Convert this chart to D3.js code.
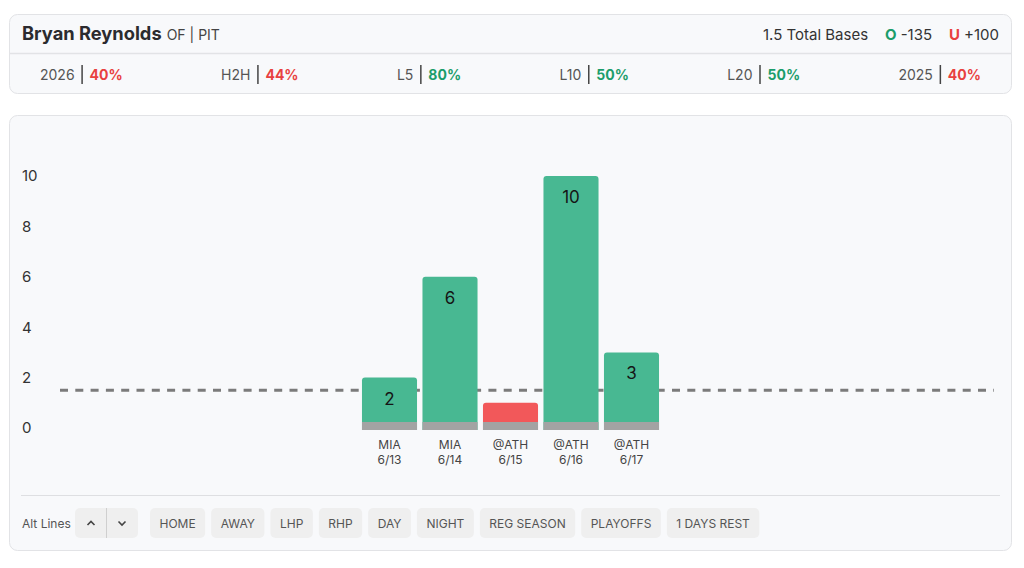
<!DOCTYPE html>
<html>
<head>
<meta charset="utf-8">
<script src="https://cdn.jsdelivr.net/npm/d3@7"></script>
<style>
  body { margin: 0; background: #fff; font-family: "Inter", "Noto Sans", sans-serif; }
  svg text { font-family: "Inter", "Noto Sans", sans-serif; }
</style>
</head>
<body>
<svg id="chart" width="1024" height="568"></svg>
<script>
// ---------------- data ----------------
var playerName = "Bryan Reynolds",
    playerInfo = "OF | PIT",
    propLine = 1.5,
    propLabel = "1.5 Total Bases",
    overOdds = "-135",
    underOdds = "+100";

var statLabels = ["2026", "H2H", "L5", "L10", "L20", "2025"],
    statValues = [40, 44, 80, 50, 50, 40];

var gameOpp = ["MIA", "MIA", "@ATH", "@ATH", "@ATH"],
    gameDate = ["6/13", "6/14", "6/15", "6/16", "6/17"],
    gameBases = [2, 6, 1, 10, 3];

var yTicks = [0, 2, 4, 6, 8, 10];

var filterButtons = ["HOME", "AWAY", "LHP", "RHP", "DAY", "NIGHT", "REG SEASON", "PLAYOFFS", "1 DAYS REST"];

// ---------------- colors ----------------
var green = "#1c9d6b", red = "#e8413f",
    barGreen = "#48b892", barRed = "#f2585a", barBase = "#a3a3a3",
    cardFill = "#f8f9fb", cardStroke = "#e2e3e6";

var svg = d3.select("#chart");

//Cards
svg.append("rect").attr("x", 9.5).attr("y", 14.5).attr("width", 1002).attr("height", 79)
  .attr("rx", 8).attr("fill", cardFill).attr("stroke", cardStroke);
svg.append("line").attr("x1", 10).attr("x2", 1011).attr("y1", 53.5).attr("y2", 53.5)
  .attr("stroke", cardStroke).attr("stroke-width", 1.5);
svg.append("rect").attr("x", 9.5).attr("y", 115.5).attr("width", 1002).attr("height", 435)
  .attr("rx", 8).attr("fill", cardFill).attr("stroke", cardStroke);

///////////////////////// header /////////////////////////
var title = svg.append("text").attr("x", 22).attr("y", 40)
  .attr("font-size", 18.3).attr("font-weight", 700).attr("fill", "#2b2b2f")
  .text(playerName);
var tw = title.node().getComputedTextLength();
svg.append("text").attr("x", 22 + tw + 5).attr("y", 40)
  .attr("font-size", 14).attr("fill", "#444").text(playerInfo);

//right side, laid out from right to left
var rightParts = [
  {t: propLabel, c: "#333", w: 400, gap: 0},
  {t: "O", c: green, w: 700, gap: 17},
  {t: overOdds, c: "#333", w: 400, gap: 4},
  {t: "U", c: red, w: 700, gap: 17},
  {t: underOdds, c: "#333", w: 400, gap: 4}
];
var xr = 999;
for (var i = rightParts.length - 1; i >= 0; i--) {
  var p = rightParts[i];
  var tnode = svg.append("text").attr("x", xr).attr("y", 39.5).attr("text-anchor", "end")
    .attr("font-size", 15).attr("font-weight", p.w).attr("fill", p.c).text(p.t);
  xr -= tnode.node().getComputedTextLength() + p.gap;
}

//stats row: items spread with space-between
var statG = svg.append("g");
var items = statLabels.map(function(lab, i) {
  var g = statG.append("g");
  var l = g.append("text").attr("y", 80).attr("font-size", 14).attr("fill", "#555").text(lab);
  var lw = l.node().getComputedTextLength();
  g.append("line").attr("x1", lw + 7.5).attr("x2", lw + 7.5).attr("y1", 65).attr("y2", 84)
    .attr("stroke", "#444").attr("stroke-width", 1.5);
  var v = g.append("text").attr("x", lw + 15).attr("y", 80).attr("font-size", 14)
    .attr("font-weight", 700).attr("fill", statValues[i] >= 50 ? green : red)
    .text(statValues[i] + "%");
  return {g: g, w: lw + 15 + v.node().getComputedTextLength()};
});
var totalW = d3.sum(items, function(d) { return d.w; }),
    gapW = (981 - 40 - totalW) / (items.length - 1),
    cx = 40;
items.forEach(function(d) {
  d.g.attr("transform", "translate(" + cx + ",0)");
  cx += d.w + gapW;
});

///////////////////////// bar chart /////////////////////////
var y = d3.scaleLinear().domain([0, 10]).range([428, 176]);
var x = d3.scaleBand().domain(gameDate).range([359.25, 661.75])
  .paddingInner(0.09).paddingOuter(0.045);

var yAxis = svg.append("g").attr("transform", "translate(22,0)")
  .call(d3.axisLeft(y).tickValues(yTicks).tickSize(0).tickPadding(0));
yAxis.select(".domain").remove();
yAxis.selectAll("text").attr("text-anchor", "start").attr("x", 0)
  .attr("font-size", 15).attr("fill", "#333").style("font-family", "Inter, sans-serif");

//line
svg.append("line").attr("x1", 60).attr("x2", 994).attr("y1", y(propLine)).attr("y2", y(propLine))
  .attr("stroke", "#7b7b7b").attr("stroke-width", 3).attr("stroke-dasharray", "8,7.3");

var bars = svg.selectAll(".bar").data(gameBases).enter().append("g").attr("class", "bar")
  .attr("transform", function(d, i) { return "translate(" + x(gameDate[i]) + ",0)"; });

var bw = x.bandwidth(), r = 3;
bars.append("path")
  .attr("fill", function(d) { return d > propLine ? barGreen : barRed; })
  .attr("d", function(d) {
    var top = y(d), bot = y(0) + 2;
    return "M0," + bot + "V" + (top + r) + "Q0," + top + " " + r + "," + top +
      "H" + (bw - r) + "Q" + bw + "," + top + " " + bw + "," + (top + r) + "V" + bot + "Z";
  });
bars.append("rect").attr("x", 0).attr("width", bw)
  .attr("y", y(0) - 6).attr("height", 8).attr("fill", barBase);

bars.filter(function(d) { return d >= 2; }).append("text")
  .attr("x", bw / 2).attr("y", function(d) { return y(d) + 21; }).attr("dy", "0.35em")
  .attr("text-anchor", "middle").attr("font-size", 17).attr("fill", "#151515")
  .text(function(d) { return d; });

bars.append("text").attr("x", bw / 2).attr("y", 448.5).attr("text-anchor", "middle")
  .attr("font-size", 12).attr("fill", "#444").text(function(d, i) { return gameOpp[i]; });
bars.append("text").attr("x", bw / 2).attr("y", 463.5).attr("text-anchor", "middle")
  .attr("font-size", 12).attr("fill", "#444").text(function(d, i) { return gameDate[i]; });

///////////////////////// footer buttons /////////////////////////
svg.append("line").attr("x1", 21).attr("x2", 1000).attr("y1", 495.5).attr("y2", 495.5)
  .attr("stroke", "#dedfe2").attr("stroke-width", 1.2);

svg.append("text").attr("x", 22).attr("y", 527.5).attr("font-size", 12)
  .attr("fill", "#555").text("Alt Lines");

svg.append("rect").attr("x", 75).attr("y", 508).attr("width", 63).attr("height", 30)
  .attr("rx", 5).attr("fill", "#efefef");
svg.append("line").attr("x1", 106.5).attr("x2", 106.5).attr("y1", 508).attr("y2", 538)
  .attr("stroke", "#cfcfcf");
svg.append("path").attr("d", "M87.5,525L91,521.5L94.5,525").attr("fill", "none")
  .attr("stroke", "#444").attr("stroke-width", 1.6);
svg.append("path").attr("d", "M118.5,521.5L122,525L125.5,521.5").attr("fill", "none")
  .attr("stroke", "#444").attr("stroke-width", 1.6);

var bx = 150;
filterButtons.forEach(function(b) {
  var g = svg.append("g");
  var rect = g.append("rect").attr("y", 508).attr("height", 30).attr("rx", 5).attr("fill", "#efefef");
  var t = g.append("text").attr("y", 527.5).attr("text-anchor", "middle")
    .attr("font-size", 12).attr("fill", "#555").text(b);
  var w = t.node().getComputedTextLength() + 19;
  rect.attr("x", bx).attr("width", w);
  t.attr("x", bx + w / 2);
  bx += w + 6;
});
</script>
</body>
</html>
